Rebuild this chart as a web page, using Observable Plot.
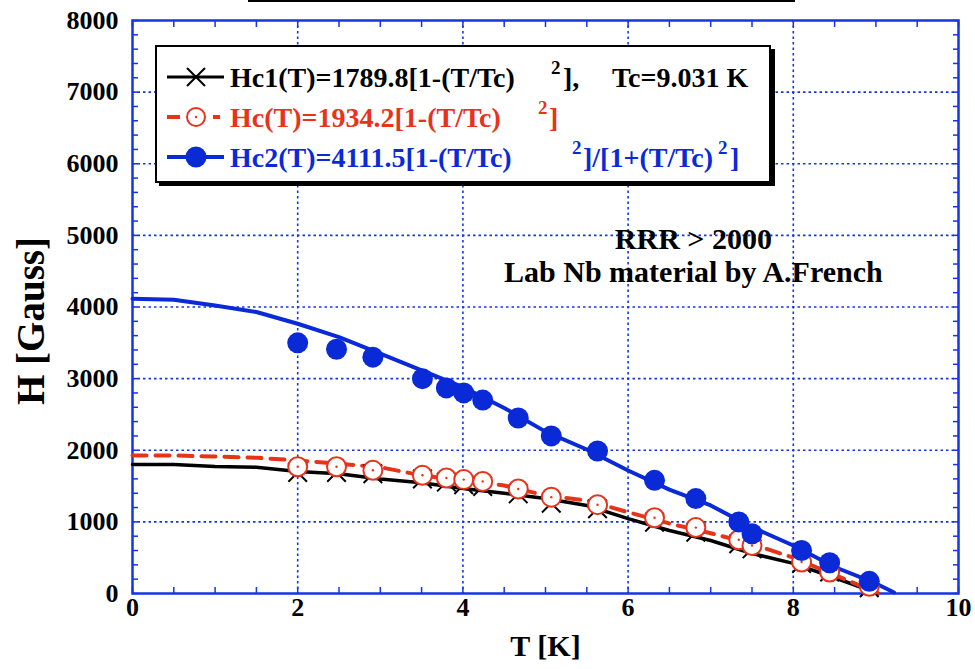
<!DOCTYPE html>
<html><head><meta charset="utf-8">
<script src="https://cdn.jsdelivr.net/npm/d3@7"></script>
<script src="https://cdn.jsdelivr.net/npm/@observablehq/plot@0.6"></script>
<style>
body{margin:0;background:#fff;}
#wrap{position:relative;width:975px;height:669px;overflow:hidden;}
#wrap svg{position:absolute;left:0;top:0;}
#topline{position:absolute;left:248px;top:0;width:547px;height:2px;background:#000;z-index:5;}
</style></head><body><div id="wrap"><div id="topline"></div></div>
<script>
// ---- data ----
const measT = [2.0, 2.47, 2.91, 3.51, 3.80, 4.01, 4.24, 4.67, 5.07, 5.63, 6.32, 6.82, 7.34, 7.50, 8.10, 8.44, 8.92];
const hc1Pts = [1690, 1690, 1672, 1600, 1555, 1520, 1495, 1392, 1261, 1183, 996, 856, 694, 624, 420, 300, 80];
const hcPts  = [1770, 1770, 1720, 1650, 1612, 1590, 1565, 1460, 1345, 1240, 1057, 920, 750, 670, 440, 300, 100];
const hc2Pts = [3500, 3410, 3300, 3000, 2870, 2800, 2700, 2450, 2200, 1990, 1580, 1325, 1000, 834, 600, 430, 170];

const hc1LineT = [0, 0.5, 1, 1.5, 2, 2.5, 3, 3.5, 4, 4.5, 5, 5.5, 6, 6.5, 7, 7.5, 8, 8.5, 9.03];
const hc1LineH = [1802, 1800, 1774, 1764, 1704, 1672, 1600, 1546, 1466, 1401, 1327, 1229, 1045, 880, 740, 559, 420, 220, 0];
const hcLineT  = [0, 0.5, 1, 1.5, 2, 2.5, 3, 3.5, 4, 4.5, 5, 5.5, 6, 6.5, 7, 7.5, 8, 8.5, 9.03];
const hcLineH  = [1927, 1927, 1913, 1895, 1858, 1811, 1764, 1648, 1578, 1508, 1369, 1299, 1135, 978, 842, 690, 500, 260, 0];
const hc2LineT = [0, 0.5, 1, 1.5, 2, 2.5, 3, 3.5, 4, 4.5, 5, 5.5, 6, 6.5, 7, 7.5, 8, 8.5, 9, 9.22];
const hc2LineH = [4115, 4100, 4020, 3930, 3766, 3580, 3348, 3115, 2881, 2590, 2260, 2011, 1718, 1450, 1229, 926, 670, 370, 140, 15];

const xMajor = [0, 2, 4, 6, 8, 10];
const yMajor = [0, 1000, 2000, 3000, 4000, 5000, 6000, 7000, 8000];
const xMinor = d3.range(0, 10.01, 0.5);
const yMinor = d3.range(0, 8001, 200);

const legendLabels = ["Hc1(T)=1789.8[1-(T/Tc)", "Hc(T)=1934.2[1-(T/Tc)", "Hc2(T)=4111.5[1-(T/Tc)"];
const notes = ["RRR > 2000", "Lab Nb material by A.French"];

// ---- styles ----
const font = '"Liberation Serif","Times New Roman",Times,serif';
const BLUE = "#0a2ad8", RED = "#e8331b", FRAME = "#1336e6";

const pts = measT.map((t, i) => ({t, hc1: hc1Pts[i], hc: hcPts[i], hc2: hc2Pts[i]}));
const l1 = hc1LineT.map((t, i) => ({t, h: hc1LineH[i]}));
const l0 = hcLineT.map((t, i) => ({t, h: hcLineH[i]}));
const l2 = hc2LineT.map((t, i) => ({t, h: hc2LineH[i]}));

const plot = Plot.plot({
  width: 975, height: 669,
  marginLeft: 132, marginRight: 17, marginTop: 20, marginBottom: 76,
  x: {domain: [0, 10]},
  y: {domain: [0, 8000]},
  style: {fontFamily: font, fontWeight: "bold", background: "white", color: "black"},
  marks: [
    Plot.gridX(xMajor.slice(1, -1), {stroke: FRAME, strokeOpacity: 1, strokeWidth: 1.6, strokeDasharray: "2.5,3"}),
    Plot.gridY(yMajor.slice(1, -1), {stroke: FRAME, strokeOpacity: 1, strokeWidth: 1.6, strokeDasharray: "2.5,3"}),
    Plot.axisX(xMinor, {anchor: "bottom", tickSize: -6, tickFormat: () => "", stroke: FRAME, strokeWidth: 1.5, label: null}),
    Plot.axisX(xMinor, {anchor: "top", tickSize: -6, tickFormat: () => "", stroke: FRAME, strokeWidth: 1.5, label: null}),
    Plot.axisY(yMinor, {anchor: "left", tickSize: -6, tickFormat: () => "", stroke: FRAME, strokeWidth: 1.5, label: null}),
    Plot.axisY(yMinor, {anchor: "right", tickSize: -6, tickFormat: () => "", stroke: FRAME, strokeWidth: 1.5, label: null}),
    Plot.axisX(xMajor, {anchor: "bottom", tickSize: 0, tickPadding: 4, fontSize: 26, fontWeight: "bold", tickFormat: d => String(d), label: null, ariaLabel: "xlab"}),
    Plot.axisY(yMajor, {anchor: "left", tickSize: 0, tickPadding: 14, fontSize: 26, fontWeight: "bold", tickFormat: d => String(d), label: null, ariaLabel: "ylab"}),
    Plot.frame({stroke: FRAME, strokeWidth: 2.5}),
    Plot.text(["T [K]"], {frameAnchor: "bottom", dy: 62, fontSize: 30, fontWeight: "bold"}),
    Plot.text(["H [Gauss]"], {frameAnchor: "left", textAnchor: "middle", dx: -101, dy: 14, rotate: -90, fontSize: 39, fontWeight: "bold", ariaLabel: "ytitle"}),
    Plot.text([notes[0]], {x: 6.79, y: 4950, fontSize: 30, fontWeight: "bold"}),
    Plot.text([notes[1]], {x: 6.79, y: 4490, fontSize: 30, fontWeight: "bold"}),
    // fitted curves
    Plot.line(l1, {x: "t", y: "h", stroke: "black", strokeWidth: 3.5}),
    Plot.line(l0, {x: "t", y: "h", stroke: RED, strokeWidth: 4, strokeDasharray: "14,9"}),
    Plot.line(l2, {x: "t", y: "h", stroke: BLUE, strokeWidth: 4}),
    // measured points
    Plot.dot(pts, {x: "t", y: "hc1", symbol: "times", r: 8.5, stroke: "black", strokeWidth: 2}),
    Plot.dot(pts, {x: "t", y: "hc", r: 9.5, stroke: RED, strokeWidth: 2, fill: "white"}),
    Plot.dot(pts, {x: "t", y: "hc", r: 1.2, fill: RED}),
    Plot.dot(pts, {x: "t", y: "hc2", r: 10.5, fill: BLUE})
  ]
});
document.getElementById("wrap").appendChild(plot);
// tall, narrow tick digits like the reference
d3.select(plot).selectAll('g[aria-label="xlab"] text, g[aria-label="ylab"] text').each(function() {
  const tr = this.getAttribute("transform") || "";
  this.setAttribute("transform", tr + " scale(0.92,1.22)");
});
d3.select(plot).selectAll('g[aria-label="ytitle"] text').each(function() {
  const tr = this.getAttribute("transform") || "";
  this.setAttribute("transform", tr + " scale(1.12,1)");
});

// ---- legend overlay ----
const lg = d3.select("#wrap").append("svg").attr("width", 975).attr("height", 669)
  .style("font-family", font).style("font-weight", "bold");
lg.append("rect").attr("x", 159).attr("y", 49).attr("width", 616).attr("height", 137).attr("fill", "black");
lg.append("rect").attr("x", 156).attr("y", 46).attr("width", 614).attr("height", 136)
  .attr("fill", "white").attr("stroke", "black").attr("stroke-width", 2);
const rows = [77, 117, 157];
lg.append("line").attr("x1", 167).attr("x2", 224).attr("y1", rows[0]).attr("y2", rows[0]).attr("stroke", "black").attr("stroke-width", 3);
lg.append("path").attr("d", `M187,${rows[0]-9}L205,${rows[0]+9}M187,${rows[0]+9}L205,${rows[0]-9}`).attr("stroke", "black").attr("stroke-width", 2);
lg.append("line").attr("x1", 167).attr("x2", 180).attr("y1", rows[1]).attr("y2", rows[1]).attr("stroke", RED).attr("stroke-width", 4);
lg.append("line").attr("x1", 213).attr("x2", 220).attr("y1", rows[1]).attr("y2", rows[1]).attr("stroke", RED).attr("stroke-width", 4);
lg.append("circle").attr("cx", 196).attr("cy", rows[1]).attr("r", 9).attr("fill", "white").attr("stroke", RED).attr("stroke-width", 2);
lg.append("circle").attr("cx", 196).attr("cy", rows[1]).attr("r", 1.2).attr("fill", RED);
lg.append("line").attr("x1", 167).attr("x2", 224).attr("y1", rows[2]).attr("y2", rows[2]).attr("stroke", BLUE).attr("stroke-width", 4);
lg.append("circle").attr("cx", 196).attr("cy", rows[2]).attr("r", 10.5).attr("fill", BLUE);

function row(y, color, parts) {
  const t = lg.append("text").attr("fill", color).attr("font-size", 28);
  parts.forEach(p => {
    const s = t.append("tspan").attr("x", p.x).text(p.s);
    if (p.sup) s.attr("font-size", 19).attr("y", y - 3);
    else s.attr("y", y + 10);
  });
}
row(rows[0], "black", [{x: 230, s: legendLabels[0]}, {x: 551, s: "2", sup: true}, {x: 563, s: "],"}, {x: 612, s: "Tc=9.031 K"}]);
row(rows[1], RED, [{x: 230, s: legendLabels[1]}, {x: 538, s: "2", sup: true}, {x: 549, s: "]"}]);
row(rows[2], BLUE, [{x: 230, s: legendLabels[2]}, {x: 572, s: "2", sup: true}, {x: 583, s: "]/[1+(T/Tc)"}, {x: 718, s: "2", sup: true}, {x: 730, s: "]"}]);
</script>
</body></html>
